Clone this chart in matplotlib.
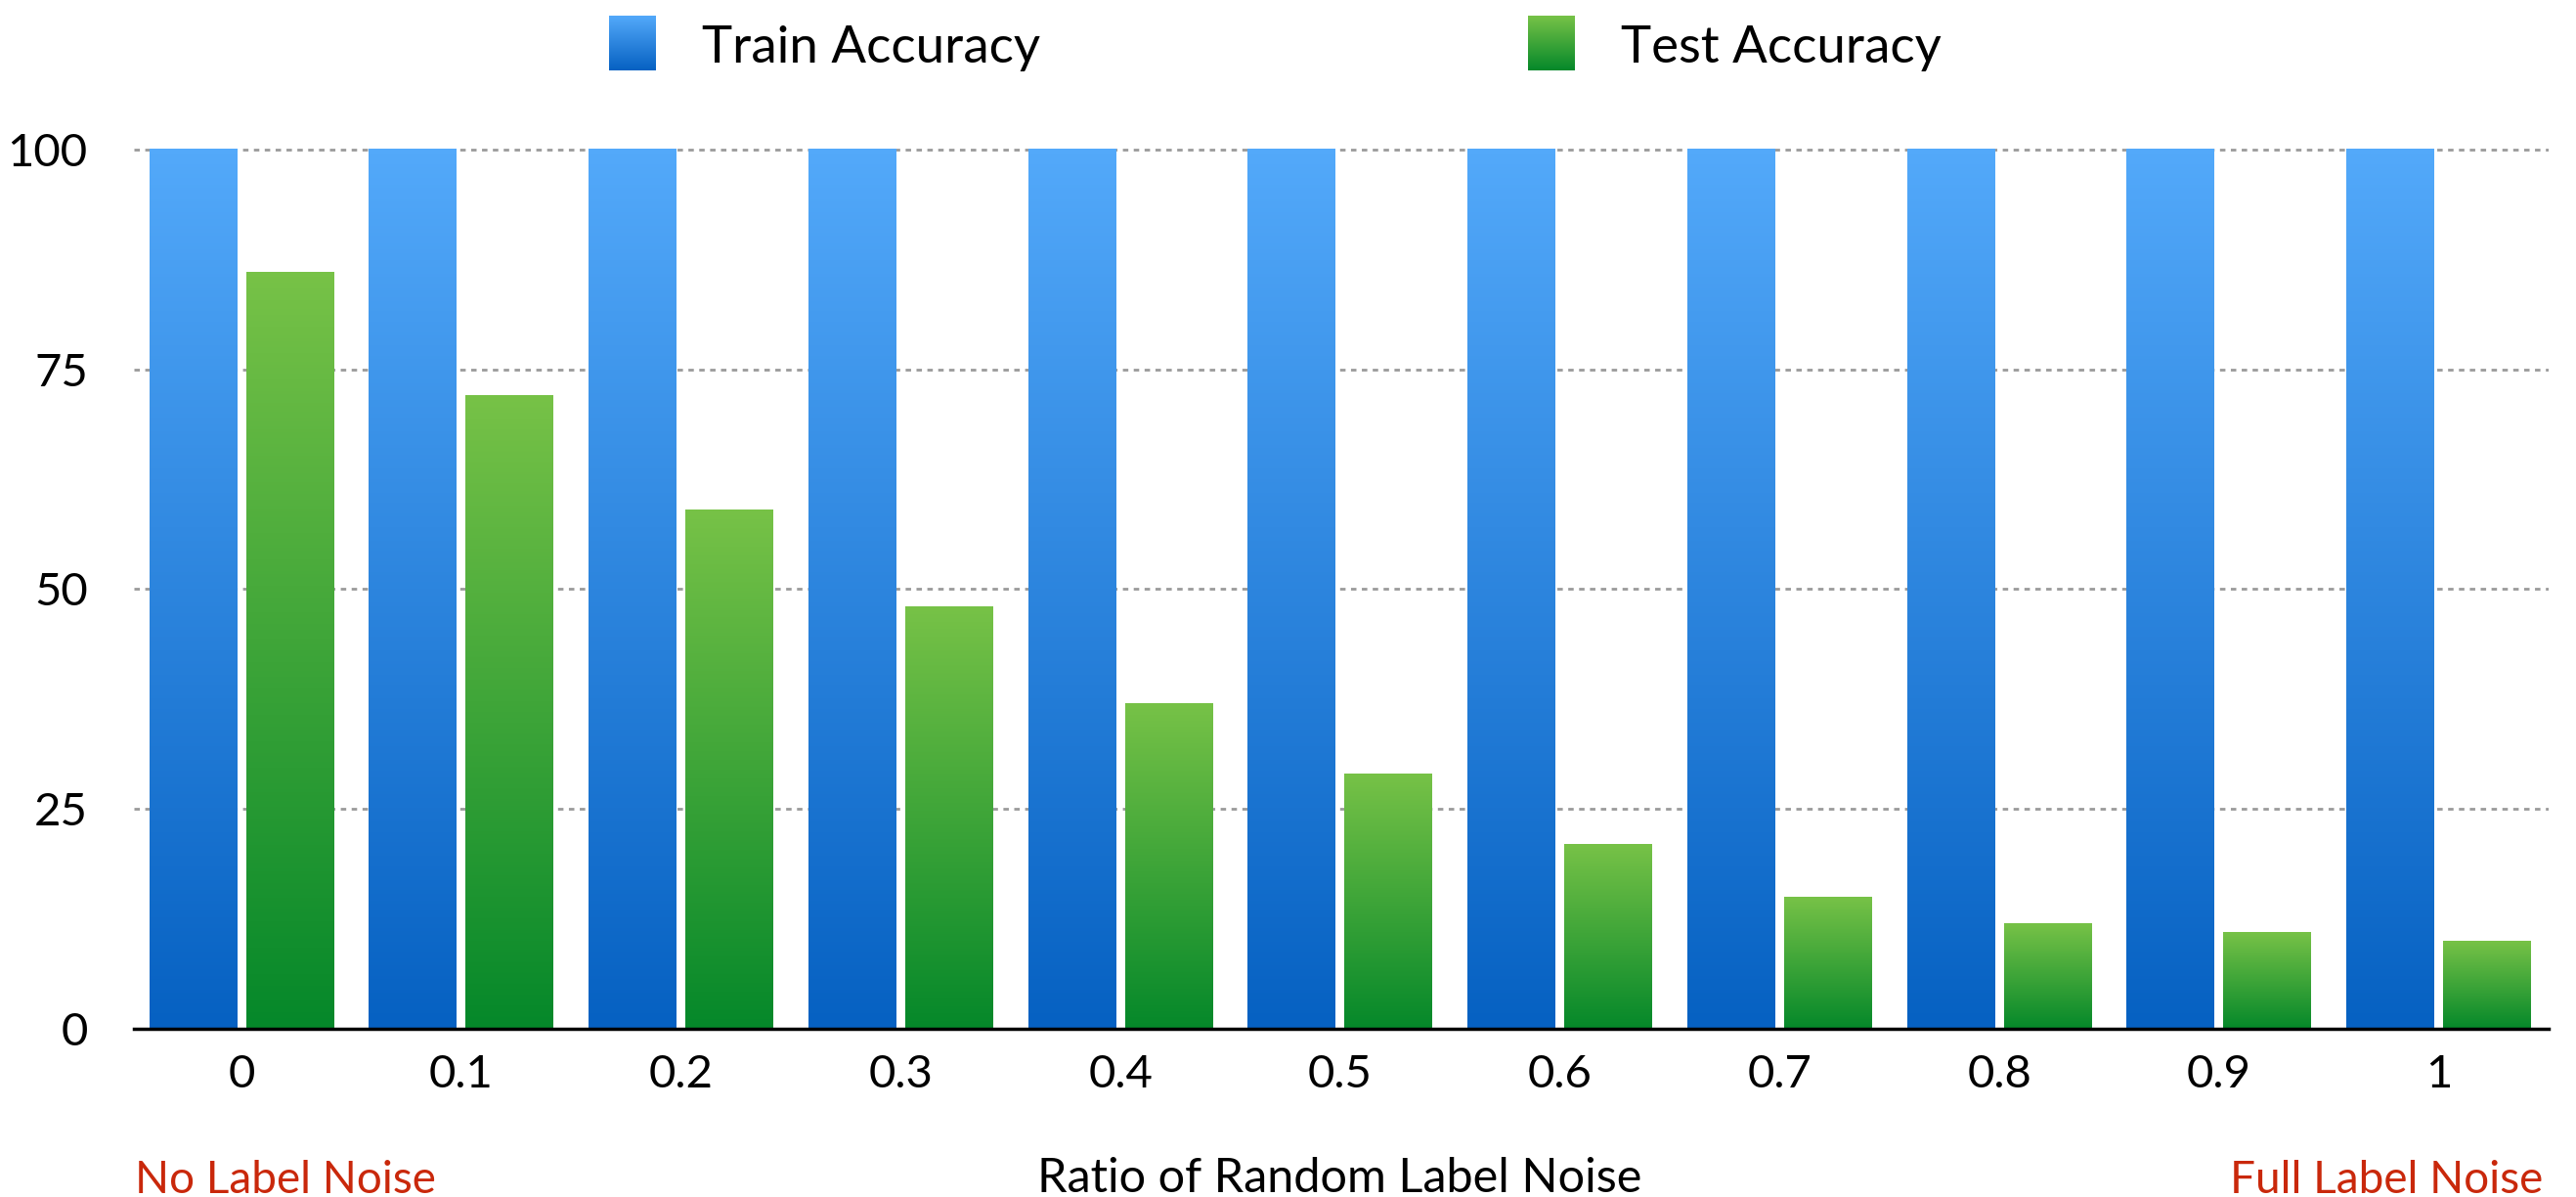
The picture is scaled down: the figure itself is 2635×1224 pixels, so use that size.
import matplotlib
matplotlib.use("Agg")
import matplotlib.pyplot as plt
import numpy as np
from matplotlib.colors import LinearSegmentedColormap

plt.rcParams['font.family'] = ['Lato', 'DejaVu Sans']

noise_ratios = ["0", "0.1", "0.2", "0.3", "0.4", "0.5", "0.6", "0.7", "0.8", "0.9", "1"]
train_acc = [100, 100, 100, 100, 100, 100, 100, 100, 100, 100, 100]
test_acc = [86, 72, 59, 48, 37, 29, 21, 15, 12, 11, 10]
y_ticks = [0, 25, 50, 75, 100]

BLUE = ("#0661C2", "#53A9FA")
GREEN = ("#05882A", "#77C247")
BAR_W = 0.40
OFFSET = 0.22

W, H = 2635, 1224


def gradient_cmap(colors):
    return LinearSegmentedColormap.from_list("g", list(colors))


def fill_gradient(ax, bars, colors):
    cmap = gradient_cmap(colors)
    grad = np.linspace(0, 1, 256).reshape(-1, 1)
    for b in bars:
        x0, y0 = b.get_x(), b.get_y()
        x1, y1 = x0 + b.get_width(), y0 + b.get_height()
        ax.imshow(grad, cmap=cmap, origin="lower", aspect="auto",
                  extent=(x0, x1, y0, y1), zorder=3, interpolation="bilinear")
        b.set_visible(False)


fig = plt.figure(figsize=(W / 100, H / 100), dpi=100)
ax = fig.add_axes([137 / W, 1 - 1052 / H, (2607 - 137) / W, (1052 - 144) / H])

x = np.arange(len(noise_ratios))
train_bars = ax.bar(x - OFFSET, train_acc, BAR_W)
test_bars = ax.bar(x + OFFSET, test_acc, BAR_W)
fill_gradient(ax, train_bars, BLUE)
fill_gradient(ax, test_bars, GREEN)

ax.set_xlim(-0.49, 10.5)
ax.set_ylim(0, 101)
ax.set_yticks(y_ticks)
ax.set_yticklabels([str(v) for v in y_ticks])
ax.set_xticks(x)
ax.set_xticklabels(noise_ratios)
ax.tick_params(axis="y", length=0, pad=34, labelsize=34)
ax.tick_params(axis="x", length=0, pad=19, labelsize=34)

for v in y_ticks[1:]:
    ax.axhline(v, color="#9a9a9a", lw=2, ls=(0, (2, 2)), zorder=1)

for s in ["top", "right", "left"]:
    ax.spines[s].set_visible(False)
ax.spines["bottom"].set_linewidth(2.5)
ax.spines["bottom"].set_zorder(5)

# legend: gradient swatches with labels
for sx, label, cols in [(623, "Train Accuracy", BLUE), (1563, "Test Accuracy", GREEN)]:
    sw = fig.add_axes([sx / W, 1 - 72 / H, 48 / W, 56 / H])
    sw.imshow(np.linspace(0, 1, 256).reshape(-1, 1), cmap=gradient_cmap(cols),
              origin="lower", aspect="auto", interpolation="bilinear")
    sw.axis("off")
    fig.text((sx + 95) / W, 1 - 64 / H, label, fontsize=38, va="baseline", ha="left")

fig.text(1370 / W, 1 - 1205 / H, "Ratio of Random Label Noise", fontsize=35,
         ha="center", va="center")
fig.text(138 / W, 1 - 1207 / H, "No Label Noise", fontsize=33, color="#C9280B",
         ha="left", va="center")
fig.text(2601 / W, 1 - 1207 / H, "Full Label Noise", fontsize=33, color="#C9280B",
         ha="right", va="center")

fig.savefig("out.png", dpi=100)
